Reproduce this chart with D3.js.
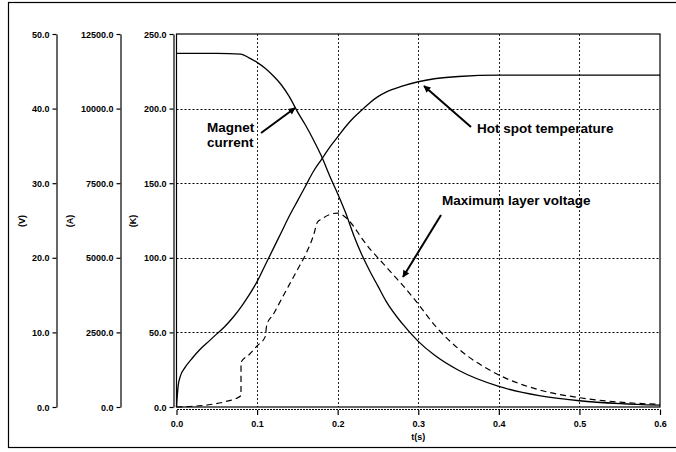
<!DOCTYPE html>
<html>
<head>
<meta charset="utf-8">
<script src="https://cdn.jsdelivr.net/npm/d3@7"></script>
<style>
  body { margin: 0; background: #fff; }
  svg { display: block; font-family: "Liberation Sans", Arial, sans-serif; }
  .axis text { font-size: 9px; font-weight: bold; fill: #000; }
  .axis path, .axis line { stroke: #000; stroke-width: 1.2; }
  .note { font-size: 13.5px; font-weight: bold; fill: #000; }
</style>
</head>
<body>
<div id="chart"></div>
<script>
/* Data */
var timeTemp    = [0, 0.002, 0.005, 0.01, 0.02, 0.03, 0.04, 0.05, 0.06, 0.07, 0.08, 0.09, 0.1, 0.11, 0.12, 0.13, 0.14, 0.15, 0.16, 0.17, 0.18, 0.19, 0.2, 0.21, 0.22, 0.23, 0.24, 0.25, 0.26, 0.28, 0.3, 0.32, 0.35, 0.4, 0.45, 0.5, 0.55, 0.6];
var hotSpotTemp = [0, 14, 21, 26, 33, 39, 44, 49, 54, 60, 67, 75, 84, 95, 106, 117, 128, 138, 148, 158, 166, 174, 181, 188, 194, 199, 204, 208, 211, 215, 218, 220, 221.5, 222.5, 222.5, 222.5, 222.5, 222.5];

var timeCurrent   = [0, 0.05, 0.08, 0.09, 0.1, 0.11, 0.12, 0.13, 0.14, 0.15, 0.16, 0.17, 0.18, 0.19, 0.2, 0.21, 0.22, 0.23, 0.24, 0.25, 0.26, 0.28, 0.3, 0.32, 0.35, 0.4, 0.45, 0.5, 0.55, 0.6];
var magnetCurrent = [11850, 11850, 11825, 11700, 11550, 11350, 11100, 10800, 10400, 9900, 9450, 8950, 8400, 7750, 7150, 6500, 5750, 5100, 4550, 4050, 3550, 2800, 2200, 1740, 1230, 690, 380, 210, 115, 62];

var timeVoltage  = [0, 0.02, 0.04, 0.06, 0.08, 0.0801, 0.09, 0.1, 0.11, 0.112, 0.12, 0.13, 0.14, 0.15, 0.16, 0.17, 0.175, 0.18, 0.19, 0.2, 0.21, 0.22, 0.23, 0.24, 0.25, 0.26, 0.27, 0.28, 0.3, 0.32, 0.35, 0.4, 0.45, 0.5, 0.55, 0.6];
var layerVoltage = [0, 0.1, 0.3, 0.7, 1.5, 6.0, 7.0, 8.2, 9.4, 11.0, 12.4, 14.4, 16.4, 18.4, 20.4, 23.0, 24.8, 25.2, 25.8, 26.0, 25.4, 24.2, 22.6, 21.2, 20.0, 18.8, 17.6, 16.4, 13.8, 11.0, 7.8, 4.3, 2.3, 1.25, 0.65, 0.35];

var timeTicks    = [0, 0.1, 0.2, 0.3, 0.4, 0.5, 0.6];
var voltTicks    = [0, 10, 20, 30, 40, 50];
var ampTicks     = [0, 2500, 5000, 7500, 10000, 12500];
var kelvinTicks  = [0, 50, 100, 150, 200, 250];

var width = 676, height = 452;
var plot = {left: 176.5, right: 660, top: 34, bottom: 407};

var svg = d3.select("#chart").append("svg")
    .attr("width", width)
    .attr("height", height);

/* outer frame */
svg.append("rect")
    .attr("x", 8.5).attr("y", 2.5)
    .attr("width", 720).attr("height", 445)
    .attr("fill", "none").attr("stroke", "#000").attr("stroke-width", 1.2);

/* Scales */
var x  = d3.scaleLinear().domain([0, 0.6]).range([plot.left, plot.right]);
var yK = d3.scaleLinear().domain([0, 250]).range([plot.bottom, plot.top]);
var yA = d3.scaleLinear().domain([0, 12500]).range([plot.bottom, plot.top]);
var yV = d3.scaleLinear().domain([0, 50]).range([plot.bottom, plot.top]);

/* Grid */
var grid = svg.append("g").attr("class", "grid");
grid.selectAll(".hgrid")
    .data(kelvinTicks.slice(1, -1))
    .enter().append("line")
        .attr("x1", plot.left).attr("x2", plot.right)
        .attr("y1", function(d){ return Math.round(yK(d)) + 0.5; })
        .attr("y2", function(d){ return Math.round(yK(d)) + 0.5; })
        .attr("stroke", "#000").attr("stroke-dasharray", "2,2");
grid.selectAll(".vgrid")
    .data(timeTicks.slice(1, -1))
    .enter().append("line")
        .attr("x1", function(d){ return Math.round(x(d)) + 0.5; })
        .attr("x2", function(d){ return Math.round(x(d)) + 0.5; })
        .attr("y1", plot.top).attr("y2", plot.bottom)
        .attr("stroke", "#222").attr("stroke-dasharray", "2,2");

/* Plot frame */
svg.append("rect")
    .attr("x", plot.left).attr("y", plot.top)
    .attr("width", plot.right - plot.left).attr("height", plot.bottom - plot.top)
    .attr("fill", "none").attr("stroke", "#000").attr("stroke-width", 1.2);

/* Left axes */
function leftAxis(scale, ticks, xpos, title, titleX){
    var g = svg.append("g")
        .attr("class", "axis")
        .attr("transform", "translate(" + xpos + ",0)")
        .call(d3.axisLeft(scale)
            .tickValues(ticks)
            .tickFormat(d3.format(".1f"))
            .tickSize(4)
            .tickSizeOuter(0)
            .tickPadding(3));
    g.selectAll("text").attr("dy", "0.35em");
    svg.append("text")
        .attr("class", "axis")
        .attr("transform", "translate(" + titleX + "," + 221 + ") rotate(-90)")
        .attr("text-anchor", "middle")
        .attr("dy", "0.35em")
        .style("font-size", "9px").style("font-weight", "bold")
        .text(title);
}
leftAxis(yV, voltTicks, 56.5, "(V)", 22);
leftAxis(yA, ampTicks, 120.5, "(A)", 70);
leftAxis(yK, kelvinTicks, 173.5, "(K)", 133);

/* Bottom axis */
var xg = svg.append("g")
    .attr("class", "axis")
    .attr("transform", "translate(0,410)")
    .call(d3.axisBottom(x)
        .tickValues(timeTicks)
        .tickFormat(d3.format(".1f"))
        .tickSize(5)
        .tickSizeOuter(0)
        .tickPadding(6));
xg.select(".domain").attr("stroke", "#999").attr("stroke-dasharray", "2,1").attr("transform", "translate(0,-1)");

svg.append("text")
    .attr("class", "axis")
    .attr("x", (plot.left + plot.right) / 2)
    .attr("y", 437)
    .attr("dy", "0.35em")
    .attr("text-anchor", "middle")
    .style("font-size", "9px").style("font-weight", "bold")
    .text("t(s)");

/* Curves */
var tempLine = d3.line()
    .curve(d3.curveMonotoneX)
    .x(function(d, i){ return x(timeTemp[i]); })
    .y(function(d){ return yK(d); });
var currentLine = d3.line()
    .curve(d3.curveMonotoneX)
    .x(function(d, i){ return x(timeCurrent[i]); })
    .y(function(d){ return yA(d); });
var voltLine = d3.line()
    .curve(d3.curveMonotoneX)
    .x(function(d, i){ return x(timeVoltage[i]); })
    .y(function(d){ return yV(d); });

svg.append("path")
    .attr("d", tempLine(hotSpotTemp))
    .attr("fill", "none").attr("stroke", "#000").attr("stroke-width", 1.3);
svg.append("path")
    .attr("d", currentLine(magnetCurrent))
    .attr("fill", "none").attr("stroke", "#000").attr("stroke-width", 1.3);
svg.append("path")
    .attr("d", voltLine(layerVoltage))
    .attr("fill", "none").attr("stroke", "#000").attr("stroke-width", 1.2)
    .attr("stroke-dasharray", "6,4");

/* Annotations */
svg.append("defs").append("marker")
    .attr("id", "arrow")
    .attr("viewBox", "0 0 10 10")
    .attr("refX", 9).attr("refY", 5)
    .attr("markerWidth", 9).attr("markerHeight", 7)
    .attr("markerUnits", "userSpaceOnUse")
    .attr("orient", "auto")
    .append("path")
        .attr("d", "M0,0 L10,5 L0,10 z")
        .attr("fill", "#000");

var notes = [
    {lines: ["Magnet", "current"], x: 207, y: 127, from: [261, 133], to: [295, 108]},
    {lines: ["Hot spot temperature"], x: 477, y: 128, from: [471, 127], to: [424, 86]},
    {lines: ["Maximum layer voltage"], x: 442, y: 200, from: [441, 215], to: [403, 277]}
];
notes.forEach(function(n){
    var t = svg.append("text").attr("class", "note");
    n.lines.forEach(function(s, i){
        t.append("tspan")
            .attr("x", n.x)
            .attr("y", n.y + i * 15)
            .attr("dy", "0.35em")
            .text(s);
    });
    svg.append("line")
        .attr("x1", n.from[0]).attr("y1", n.from[1])
        .attr("x2", n.to[0]).attr("y2", n.to[1])
        .attr("stroke", "#000").attr("stroke-width", 2)
        .attr("marker-end", "url(#arrow)");
});
</script>
</body>
</html>
